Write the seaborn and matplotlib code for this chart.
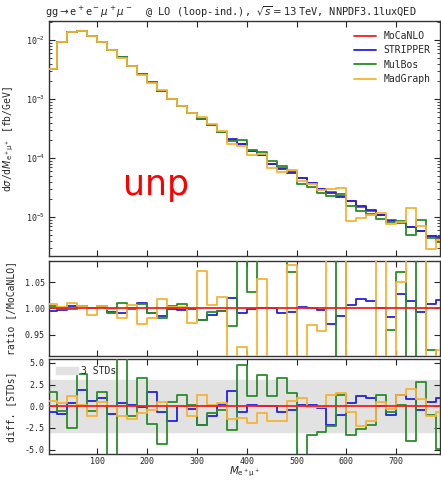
import numpy as np
import pandas as pd
import matplotlib
matplotlib.use('Agg')
import matplotlib.pyplot as plt
import seaborn as sns

# 20 GeV bins in M(e+ mu+)
bin_edges = list(range(0, 820, 20))

# MoCaNLO differential cross section [fb/GeV]
mocanlo = [3.26e-3, 9.3e-3, 1.37e-2, 1.45e-2, 1.2e-2, 9.25e-3, 6.9e-3, 5.15e-3, 3.7e-3, 2.68e-3,
           1.94e-3, 1.40e-3, 1.01e-3, 7.6e-4, 5.9e-4, 4.65e-4, 3.7e-4, 2.8e-4, 2.05e-4, 1.75e-4,
           1.31e-4, 1.12e-4, 8.0e-5, 6.7e-5, 5.75e-5, 4.65e-5, 3.8e-5, 3.05e-5, 2.63e-5, 2.27e-5,
           1.85e-5, 1.5e-5, 1.29e-5, 1.07e-5, 8.8e-6, 8.0e-6, 6.7e-6, 5.9e-6, 4.8e-6, 4.45e-6]

# ratios to MoCaNLO
ratio_stripper = [0.996, 0.997, 1.004, 1.005, 1.000, 1.002, 0.994, 0.992, 1.000, 1.010,
                  0.991, 0.986, 0.999, 0.997, 0.999, 0.978, 0.988, 0.996, 1.020, 0.992,
                  0.999, 1.000, 1.000, 0.991, 0.994, 1.003, 1.000, 0.997, 0.971, 0.985,
                  1.006, 1.018, 1.015, 1.000, 0.983, 1.027, 1.015, 0.994, 1.008, 1.017]
ratio_mulbos = [1.004, 0.999, 0.999, 1.004, 1.000, 1.004, 0.991, 1.011, 0.999, 1.009,
                0.992, 0.982, 1.004, 1.008, 0.999, 0.978, 0.994, 0.996, 0.966, 1.15,
                1.032, 1.12, 1.13, 1.10, 1.069, 0.77, 0.86, 0.85, 0.87, 1.10,
                0.82, 0.85, 0.88, 0.88, 0.959, 1.069, 0.75, 1.5, 0.921, 0.85]
ratio_madgraph = [1.009, 1.002, 1.010, 1.005, 0.988, 1.004, 0.999, 0.982, 1.007, 0.970,
                  0.982, 1.018, 1.003, 1.003, 0.972, 1.071, 1.007, 1.021, 0.85, 0.927,
                  0.88, 1.057, 0.85, 0.87, 1.082, 0.88, 0.969, 0.957, 1.12, 1.35,
                  0.47, 0.65, 0.85, 1.12, 0.87, 1.05, 2.1, 1.2, 0.61, 0.92]

# differences in standard deviations
diff_stripper = [-0.7, -0.85, 0.4, 1.9, 0.6, 1.0, -0.85, 0.4, 0.2, -0.1,
                 1.6, -0.7, -1.7, 0.0, -0.3, -2.1, -1.15, 0.2, 1.75, -0.7,
                 0.2, 0.0, 0.05, -0.7, -0.4, 0.2, 0.1, -0.2, -2.1, -1.0,
                 0.4, 1.15, 0.95, 0.0, -1.0, 1.35, 0.8, -0.4, 0.45, 0.95]
diff_mulbos = [1.6, -0.55, -2.5, 3.7, -0.55, 1.6, -9.0, 9.0, -1.15, 3.3,
               -2.0, -4.4, 0.5, 1.35, 0.2, -2.2, -0.8, -0.4, -2.7, 4.8,
               1.2, 3.6, 1.2, 3.3, 1.5, -9.0, -3.3, -3.0, -2.3, 1.35,
               -3.3, -2.6, -2.1, 1.35, -0.6, 0.2, -4.0, 2.8, -1.0, -4.9]
diff_madgraph = [0.6, 0.4, 1.2, 0.2, -1.15, 0.45, 0.0, -1.15, -1.45, -0.75,
                 -0.45, 0.55, 0.0, 0.0, -1.15, 1.35, 0.2, 0.4, -1.5, -1.35,
                 -1.9, -0.75, -1.7, -1.7, 0.6, 0.95, -0.1, -0.05, 1.35, 1.5,
                 -0.6, -2.3, -1.7, 0.45, -0.3, 1.35, 2.0, 0.85, -1.15, -0.6]

colors = {'MoCaNLO': '#ee2222', 'STRIPPER': '#2222dd', 'MulBos': '#2a8c2a', 'MadGraph': '#f5b335'}

sns.set_style('ticks')
plt.rcParams['font.family'] = ['DejaVu Sans Mono']
plt.rcParams['mathtext.fontset'] = 'dejavusans'
plt.rcParams['axes.unicode_minus'] = False
plt.rcParams['axes.edgecolor'] = '#333333'
plt.rcParams['axes.linewidth'] = 1.0

moc = np.array(mocanlo)
main = {
    'MoCaNLO': moc,
    'STRIPPER': moc * np.array(ratio_stripper),
    'MulBos': moc * np.array(ratio_mulbos),
    'MadGraph': moc * np.array(ratio_madgraph),
}
ratios = {
    'MoCaNLO': moc / moc,
    'STRIPPER': np.array(ratio_stripper),
    'MulBos': np.array(ratio_mulbos),
    'MadGraph': np.array(ratio_madgraph),
}
diffs = {
    'MoCaNLO': moc * 0.0,
    'STRIPPER': np.array(diff_stripper),
    'MulBos': np.array(diff_mulbos),
    'MadGraph': np.array(diff_madgraph),
}


def stairs(ax, vals, name, z, label=None):
    df = pd.DataFrame({'x': bin_edges, 'y': list(vals) + [vals[-1]]})
    sns.lineplot(data=df, x='x', y='y', ax=ax, color=colors[name], lw=1.3,
                 drawstyle='steps-post', estimator=None, sort=False,
                 label=label, zorder=z)


fig = plt.figure(figsize=(4.41, 4.82), dpi=100)
x0, w = 0.112, 0.886
ax1 = fig.add_axes([x0, 0.469, w, 0.487])
ax2 = fig.add_axes([x0, 0.262, w, 0.196])
ax3 = fig.add_axes([x0, 0.059, w, 0.196])

for i, name in enumerate(['MoCaNLO', 'STRIPPER', 'MulBos', 'MadGraph']):
    stairs(ax1, main[name], name, 2 + i, label=name)
    zr = 6 if name == 'MoCaNLO' else 2 + i
    stairs(ax2, ratios[name], name, zr)
    stairs(ax3, diffs[name], name, zr)

ax1.set_yscale('log')
ax1.set_ylim(2.2e-6, 2.1e-2)
ax2.set_ylim(0.91, 1.09)
ax2.set_yticks([0.95, 1.00, 1.05])
ax3.set_ylim(-5.45, 5.45)
ax3.set_yticks([-5.0, -2.5, 0.0, 2.5, 5.0])
ax3.axhspan(-3, 3, color='#e2e2e2', zorder=0, label='3 STDs')

for ax in (ax1, ax2, ax3):
    ax.set_xlim(4, 788)
    ax.set_xticks([100, 200, 300, 400, 500, 600, 700])
    ax.tick_params(which='both', direction='in', top=True, right=True, labelsize=6)
    ax.tick_params(which='major', length=4, width=0.8)
    ax.tick_params(which='minor', length=2, width=0.6)
    ax.set_xlabel('')
    ax.yaxis.set_label_coords(-0.085, 0.5)
ax1.tick_params(labelbottom=False)
ax2.tick_params(labelbottom=False)
ax3.tick_params(axis='x', pad=2.5)

ax1.set_ylabel(r'd$\sigma$/d$M_{\mathrm{e^+\mu^+}}$ [fb/GeV]', fontsize=7)
ax2.set_ylabel('ratio [/MoCaNLO]', fontsize=7)
ax3.set_ylabel('diff. [STDs]', fontsize=7)
ax3.set_xlabel(r'$M_{\mathrm{e^+\mu^+}}$', fontsize=7.5, va='top')
ax3.xaxis.set_label_coords(0.5, -0.12)

ax1.legend(loc='upper right', frameon=False, fontsize=7, handlelength=2.2,
           borderaxespad=0.6, labelspacing=0.45)
if ax2.get_legend():
    ax2.get_legend().remove()
h, l = ax3.get_legend_handles_labels()
ax3.legend([h[l.index('3 STDs')]], ['3 STDs'], loc='upper left', frameon=False,
           fontsize=7, handlelength=2.2, borderaxespad=0.3, handletextpad=0.4)

ax1.text(0.273, 0.26, 'unp', transform=ax1.transAxes, color='red', fontsize=25,
         family='DejaVu Sans', ha='center', va='baseline')

ax1.set_title(r'gg$\rightarrow$e$^+$e$^-\mu^+\mu^-$  @ LO (loop-ind.), $\sqrt{s}=13\,$TeV, NNPDF3.1luxQED',
              fontsize=7.4, x=0.465, pad=4)

plt.savefig('out.png', dpi=100)
plt.close()
